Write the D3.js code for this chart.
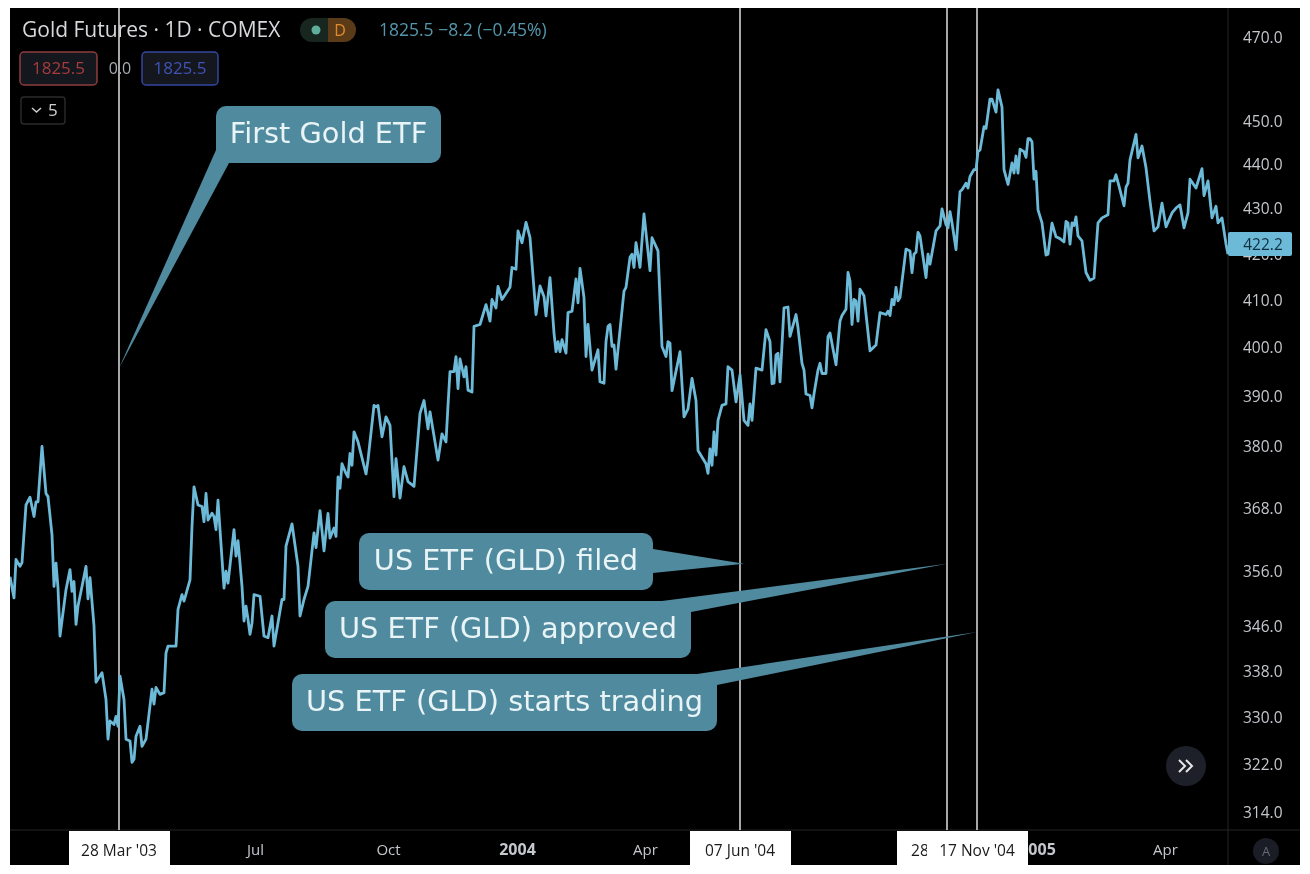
<!DOCTYPE html>
<html><head><meta charset="utf-8">
<script src="https://cdn.jsdelivr.net/npm/d3@7/dist/d3.min.js"></script>
<style>html,body{margin:0;padding:0;background:#fff}svg{display:block;filter:blur(0.5px)}</style>
</head><body><svg id="c" width="1310" height="874"></svg>
<script>
// Bar (session) number of each traced turning point of the close line
const sessions = [
0,2,3,5,6,8,10,12,13,14,
16,18,19,21,22,23,24,25,28,30,
31,32,33,34,36,38,39,40,42,43,
46,48,49,50,52,53,54,55,57,58,
60,61,62,63,65,66,68,71,72,73,
75,77,78,79,83,84,86,87,90,91,
92,94,96,97,98,99,
101,102,103,104,105,107,108,109,112,113,
114,115,116,117,118,119,120,121,122,125,
127,129,131,132,136,137,138,141,144,145,
147,149,152,153,155,157,159,160,162,163,
164,165,166,168,169,170,171,172,174,178,
179,182,183,184,186,188,190,192,193,195,
197,199,
202,205,207,209,210,214,216,218,219,220,
222,223,224,225,227,228,229,231,232,235,
238,240,241,243,244,246,250,251,253,254,
256,258,260,263,265,267,268,270,272,273,
274,275,276,278,279,281,283,284,285,287,
288,289,291,294,295,297,298,299,
300,301,302,303,307,308,310,311,312,313,
315,317,320,321,324,326,328,329,330,331,
335,337,339,341,343,344,348,349,350,351,
352,353,354,356,358,359,361,363,365,367,
369,370,371,373,376,378,380,381,382,383,
384,385,387,389,390,393,394,396,397,398,
400,
401,402,404,405,406,408,409,410,413,415,
416,418,419,420,421,422,423,424,425,427,
430,433,435,438,439,440,441,442,443,444,
445,448,450,451,452,453,454,455,458,459,
460,463,465,466,468,469,470,471,473,475,
476,478,479,480,482,483,484,485,487,488,
490,491,493,494,496,497,499,501,502,503,
504,505,507,508,509,
510,511,512,513,514,516,518,519,521,523,
525,527,528,529,530,531,532,533,534,536,
538,540,542,544,546,549,550,552,553,555,
557,558,559,560,563,564,566,568,570,572,
574,576,578,581,583,585,587,589,590,593,
596,597,599,601,603,604,606,608,609];
const closes = [
355.1,351.2,358.3,357,357.7,368.6,370.1,366.4,369.2,369.2,
380,370.8,370.2,362.9,353.3,357.6,353,344.3,352.7,356.4,
352.4,354.2,346.4,349.7,353.3,357,351,354.9,346.1,336.1,
337.8,333.1,326.3,329.4,328.8,330.2,328.5,337.2,333.1,326.3,
326,322.4,322.9,326.8,328.5,325.1,326.3,334.9,332.3,335.2,
334,334.3,341.3,342.5,342.5,349.1,351.8,350.6,354.5,364.5,
372.1,368.6,368.3,365.4,370.8,365.7,
367,366.4,363.9,369.5,363.9,353,356.1,353.9,363.9,358.9,
361.8,357.6,353.3,347,349.7,347.3,344.6,346.6,351.8,351.5,
344.3,344,347.9,342.5,350.9,350.9,360.8,365,357,347.9,
350.9,353.3,363.3,360.5,367.5,359.9,367,362.3,364.2,362.6,
374,371.8,376.6,374.7,374,378.6,376.3,382.9,380.9,374.6,
377.3,388.2,387.9,388.2,381.9,385.9,384.2,370.2,377.6,369.9,
376,373.1,
372.2,386.6,389.2,383.5,386.9,377.3,382.5,380.9,388.2,395.1,
395.1,398.2,391.6,397.7,394,396.1,391.3,390.9,404.5,404.9,
409.1,405.6,410.2,408.4,413,410.2,412.8,417.1,416.7,425.1,
422.5,427,423.6,407,413.1,410.8,406.7,414.9,403.1,399.2,
401.3,399.2,401.7,398.9,407.4,407.7,414.6,409.5,416.9,410.6,
398.2,404.9,395.4,399.6,393,392.7,401.3,404.5,
404.9,400.3,400.6,395.6,412,412.8,419.3,420,417.1,422.5,
417.1,428.9,416.4,423.6,420.7,400.3,398.2,401.3,401,391.2,
399.2,385.9,387.5,393.7,389.2,379.2,376.6,374.7,379.5,376.3,
382.9,378.3,385.2,388.2,388.5,396.1,395.4,388.9,394.4,385.2,
384.2,388.5,385.2,395.8,395.4,403.8,401.3,392.6,392.7,398.5,
398.9,393,408.4,408.6,402.4,407,404.2,396.8,395.4,390.5,
390.2,
387.7,390.5,395.4,396.8,394.7,394.7,402.4,403.1,396.5,405.6,
406.8,408.1,416,414.2,404.9,410.2,409.9,405.6,412.4,411,
399.4,400.6,407.4,407,407.7,406.8,410.2,409.1,412.8,409.9,
410.6,421.1,420.7,416,420,420.4,424.8,424,414.9,420,
417.8,425.1,426.2,430,426.5,425.8,429.4,426.9,421,433.9,
434.3,435.8,434.7,437.3,438.9,438.9,443,443.4,448.8,448.4,
455.3,455.3,452.2,457.5,453.4,438.9,435.5,440.4,438.1,442,
438.1,443.6,443,441.7,446,
446,445.3,436.7,438.5,429.8,426.9,419.8,420,426.8,423.8,
423.4,422.7,427.2,426.9,422.2,426.9,426.3,428.2,424,422.9,
416,414.3,414.8,426.9,428,428.7,436.3,436.3,437.7,434.3,
430.7,434.9,435.8,441.1,447,441.6,444.3,439.3,431.7,425.1,
426,431.3,426,429.1,430.2,430.9,425.8,429.1,436.7,434.7,
439.1,433,436.3,428,430.6,426.9,428,422.2,420];

const priceTicks = [470,450,440,430,420,410,400,390,380,368,356,346,338,330,322,314];
const lastPrice = 422.2;
const timeTickBars = [122.5,189,253.5,317.5,382.5,449,513.5,577.5];
const timeTickLabels = ["Jul","Oct","2004","Apr","Jul","Oct","2005","Apr"];
const eventBars = [54.5,365,468.5,483.5];
const eventDates = ["28 Mar '03","07 Jun '04","28 Oct '04","17 Nov '04"];
const eventCallouts = ["First Gold ETF","US ETF (GLD) filed","US ETF (GLD) approved","US ETF (GLD) starts trading"];
const eventTipPrices = [395.8,357.5,357.5,345];

const FONT = "'Open Sans',sans-serif", CALL = "'DejaVu Sans',sans-serif";
const svg = d3.select("#c");
const plot = {l:10,t:8,r:1228,b:830,edge:1300,bottom:865};
const x = d3.scaleLinear().domain([0,609]).range([plot.l,plot.r]);
const y = d3.scaleLog().domain([470,314]).range([38,813]);

svg.append("rect").attr("x",plot.l).attr("y",plot.t).attr("width",plot.edge-plot.l).attr("height",plot.bottom-plot.t).attr("fill","#000");
svg.append("defs").append("clipPath").attr("id","p").append("rect")
  .attr("x",plot.l).attr("y",plot.t).attr("width",plot.r-plot.l).attr("height",plot.b-plot.t);

// separators
svg.append("line").attr("x1",plot.r).attr("x2",plot.r).attr("y1",plot.t).attr("y2",plot.bottom).attr("stroke","#242424");
svg.append("line").attr("x1",plot.l).attr("x2",plot.edge).attr("y1",plot.b).attr("y2",plot.b).attr("stroke","#242424");

// price axis
const ya = svg.append("g").attr("transform",`translate(${plot.r},0)`)
  .call(d3.axisRight(y).tickValues(priceTicks).tickSize(0).tickPadding(15).tickFormat(d=>d.toFixed(1)));
ya.select(".domain").remove();
ya.selectAll("text").attr("fill","#c4c7cc").style("font",`15.5px ${FONT}`);

// time axis
const xa = svg.append("g").attr("transform",`translate(0,${plot.b})`)
  .call(d3.axisBottom(x).tickValues(timeTickBars).tickSize(0).tickPadding(14).tickFormat((d,i)=>timeTickLabels[i]));
xa.select(".domain").remove();
xa.selectAll("text").attr("fill","#c4c7cc").style("font",(d,i)=>`${/^\d/.test(timeTickLabels[i])?700:400} ${/^\d/.test(timeTickLabels[i])?16:15}px ${FONT}`);

// event lines
svg.append("g").selectAll("line").data(eventBars).join("line")
  .attr("x1",d=>x(d)).attr("x2",d=>x(d)).attr("y1",plot.t).attr("y2",plot.b)
  .attr("stroke","#d2d2d2").attr("stroke-width",1.6);

// close line
const line = d3.line().x(d=>x(d[0])).y(d=>y(d[1]));
svg.append("path").datum(d3.zip(sessions,closes)).attr("clip-path","url(#p)")
  .attr("d",line).attr("fill","none").attr("stroke","#6dbad8").attr("stroke-width",2.8).attr("stroke-linejoin","round");

// last price label
svg.append("rect").attr("x",plot.r).attr("y",y(lastPrice)-12).attr("width",64).attr("height",24).attr("rx",2).attr("fill","#6dbad8");
svg.append("text").attr("x",plot.r+35).attr("y",y(lastPrice)+6).attr("text-anchor","middle")
  .attr("fill","#10303f").style("font",`15.5px ${FONT}`).text(lastPrice.toFixed(1));

// date boxes
const dg = svg.append("g").selectAll("g").data(eventBars).join("g").attr("transform",d=>`translate(${x(d)},${plot.b+1})`);
dg.append("rect").attr("x",-50).attr("width",101).attr("height",plot.bottom-plot.b-1).attr("fill","#fff");
dg.append("text").attr("y",25).attr("text-anchor","middle").attr("fill","#1a1a1a").style("font",`15.5px ${FONT}`).text((d,i)=>eventDates[i]);

// callouts
const boxes = [
 {x:216,y:106,w:225,h:57,a:[216,150],b:[229,163]},
 {x:359,y:533,w:294,h:57,a:[653,549],b:[653,573]},
 {x:325,y:601,w:366,h:57,a:[662,601],b:[691,612]},
 {x:292,y:674,w:425,h:57,a:[697,674],b:[717,685]}];
const cg = svg.append("g").selectAll("g").data(boxes).join("g");
cg.append("path").attr("fill","#4f8a9f").attr("d",(d,i)=>{
  const tip=[x(eventBars[i])+(i===1?4:0), y(eventTipPrices[i])];
  return d3.line()([d.a,tip,d.b]);});
cg.append("rect").attr("x",d=>d.x).attr("y",d=>d.y).attr("width",d=>d.w).attr("height",d=>d.h).attr("rx",10).attr("fill","#4f8a9f");
cg.append("text").attr("x",d=>d.x+d.w/2).attr("y",d=>d.y+d.h/2+8).attr("text-anchor","middle")
  .attr("fill","#e9f4f6").style("font",`28.8px ${CALL}`).text((d,i)=>eventCallouts[i]);

// header
const hdr = svg.append("g").style("font-family",FONT);
hdr.append("text").attr("x",22).attr("y",37).attr("fill","#d6d8dc").style("font-size","21px").text("Gold Futures · 1D · COMEX");
hdr.append("path").attr("d","M328,18H312a12,12 0 0 0 0,24H328Z").attr("fill","#17261f");
hdr.append("path").attr("d","M328,18H344a12,12 0 0 1 0,24H328Z").attr("fill","#5b3a17");
hdr.append("circle").attr("cx",316).attr("cy",30).attr("r",4.5).attr("fill","#5fae9c");
hdr.append("text").attr("x",340).attr("y",36).attr("text-anchor","middle").attr("fill","#e08a2e").style("font-size","16px").text("D");
hdr.append("text").attr("x",379).attr("y",36).attr("fill","#5497ad").style("font-size","17.5px").text("1825.5  −8.2 (−0.45%)");
hdr.append("rect").attr("x",20).attr("y",52).attr("width",77).attr("height",33).attr("rx",4).attr("fill","#15171f").attr("stroke","#8f3c3c").attr("stroke-width",1.5);
hdr.append("text").attr("x",58.5).attr("y",74).attr("text-anchor","middle").attr("fill","#a63c3c").style("font-size","17px").text("1825.5");
hdr.append("text").attr("x",120).attr("y",74).attr("text-anchor","middle").attr("fill","#a8abb0").style("font-size","16px").text("0.0");
hdr.append("rect").attr("x",142).attr("y",52).attr("width",76).attr("height",33).attr("rx",4).attr("fill","#15171f").attr("stroke","#3547a0").attr("stroke-width",1.5);
hdr.append("text").attr("x",180).attr("y",74).attr("text-anchor","middle").attr("fill","#3f53b5").style("font-size","17px").text("1825.5");
hdr.append("rect").attr("x",21).attr("y",97).attr("width",44).attr("height",27).attr("rx",3).attr("fill","none").attr("stroke","#2b2b2b").attr("stroke-width",1.4);
hdr.append("path").attr("d","M32,108l4.5,4l4.5,-4").attr("fill","none").attr("stroke","#cfcfcf").attr("stroke-width",1.5);
hdr.append("text").attr("x",48).attr("y",116).attr("fill","#cfcfcf").style("font-size","17px").text("5");

// buttons
svg.append("circle").attr("cx",1186).attr("cy",766).attr("r",20).attr("fill","#1d2029");
svg.append("path").attr("d","M1179,760l6,6l-6,6M1186,760l6,6l-6,6").attr("fill","none").attr("stroke","#e6e6e6").attr("stroke-width",2);
svg.append("circle").attr("cx",1266).attr("cy",851).attr("r",13).attr("fill","#1a1d26");
svg.append("text").attr("x",1266).attr("y",856).attr("text-anchor","middle").attr("fill","#666a73").style("font",`13px ${FONT}`).text("A");
</script></body></html>
